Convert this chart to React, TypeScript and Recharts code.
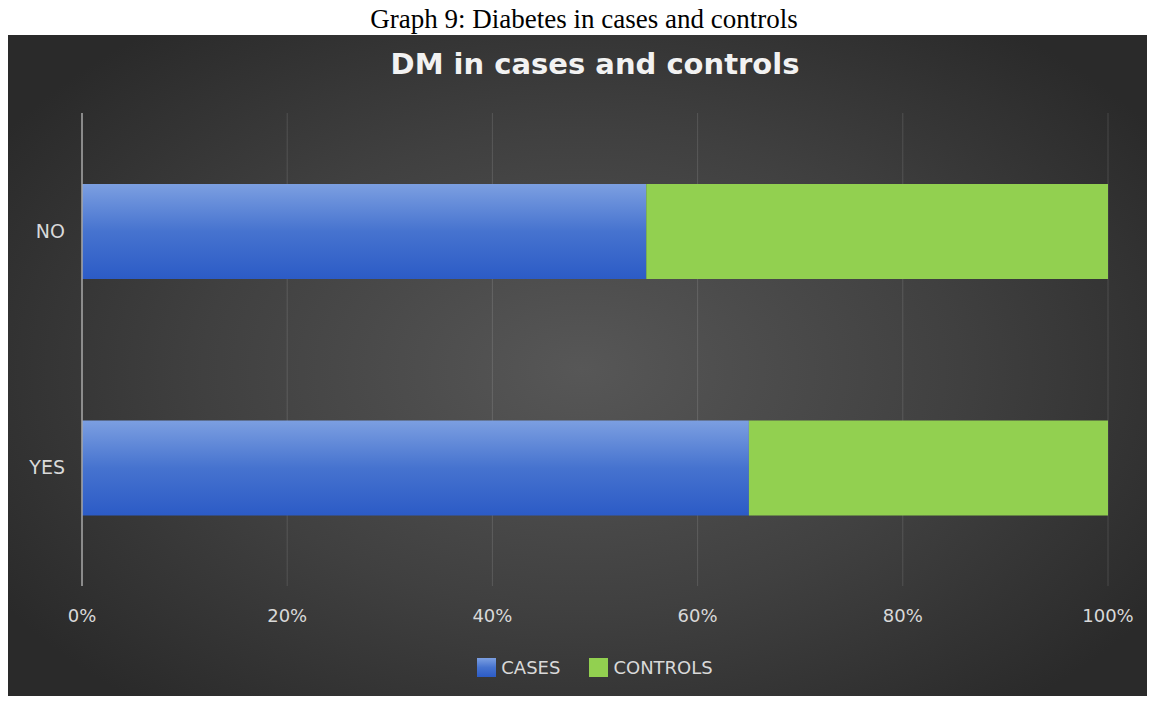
import React from 'react';
import { BarChart, Bar, XAxis, YAxis, CartesianGrid, Legend } from 'recharts';

// Diabetes status (categories) and the share of cases / controls in each, in %
const categories = ['NO', 'YES'];
const casesPct = [55, 65];
const controlsPct = [45, 35];
const xTicks = [0, 20, 40, 60, 80, 100];

const seriesNames = { cases: 'CASES', controls: 'CONTROLS' };

const data = categories.map((name, i) => ({
  name,
  cases: casesPct[i],
  controls: controlsPct[i],
}));

const FONT = '"DejaVu Sans", "Open Sans", sans-serif';
const LABEL = '#d9d9d9';

const renderLegend = (props: any) => {
  const { payload } = props;
  return (
    <div style={{ display: 'flex', justifyContent: 'center', alignItems: 'center' }}>
      {payload.map((entry: any, i: number) => (
        <div
          key={entry.value}
          style={{ display: 'flex', alignItems: 'center', marginLeft: i === 0 ? 0 : 29 }}
        >
          <svg width={19} height={19} style={{ marginRight: 5 }}>
            <rect width={19} height={19} fill={entry.color} />
          </svg>
          <span style={{ color: LABEL, fontFamily: FONT, fontSize: 18 }}>{entry.value}</span>
        </div>
      ))}
    </div>
  );
};

const App: React.FC = () => {
  return (
    <div style={{ position: 'relative', margin: -8, width: 1155, height: 704 }}>
      <div
        style={{
          position: 'absolute',
          top: 4,
          left: 0,
          width: 1155,
          paddingLeft: 13,
          boxSizing: 'border-box',
          textAlign: 'center',
          fontFamily: '"Liberation Serif", "Times New Roman", serif',
          fontSize: 27,
          color: '#000',
        }}
      >
        Graph 9: Diabetes in cases and controls
      </div>

      <div
        style={{
          position: 'absolute',
          left: 8,
          top: 35,
          width: 1147,
          height: 669,
          background:
            'radial-gradient(ellipse 60% 65% at 50% 50%, #575757 0%, #404040 55%, #2a2a2a 100%)',
        }}
      >
        <BarChart
          width={1147}
          height={669}
          data={data}
          layout="vertical"
          barCategoryGap="30%"
          margin={{ top: 78, right: 47, left: 0, bottom: 67 }}
        >
          <defs>
            <linearGradient id="casesFill" x1="0" y1="0" x2="0" y2="1">
              <stop offset="0%" stopColor="#7c9fe1" />
              <stop offset="50%" stopColor="#4673cf" />
              <stop offset="100%" stopColor="#2c5bc6" />
            </linearGradient>
          </defs>
          <CartesianGrid horizontal={false} stroke="rgba(255,255,255,0.13)" />
          <XAxis
            type="number"
            domain={[0, 100]}
            ticks={xTicks}
            tickFormatter={(v) => `${v}%`}
            axisLine={false}
            tickLine={false}
            tickMargin={17}
            height={30}
            tick={{ fill: LABEL, fontSize: 18, fontFamily: FONT }}
          />
          <YAxis
            type="category"
            dataKey="name"
            width={74}
            axisLine={{ stroke: '#a6a6a6', strokeWidth: 1.5 }}
            tickLine={false}
            tickMargin={11}
            tick={{ fill: LABEL, fontSize: 19, fontFamily: FONT }}
          />
          <Legend
            content={renderLegend}
            wrapperStyle={{ left: 74, width: 1026, top: 622 }}
          />
          <Bar
            dataKey="cases"
            name={seriesNames.cases}
            stackId="dm"
            fill="url(#casesFill)"
            legendType="square"
            isAnimationActive={false}
          />
          <Bar
            dataKey="controls"
            name={seriesNames.controls}
            stackId="dm"
            fill="#92d050"
            legendType="square"
            isAnimationActive={false}
          />
        </BarChart>

        <div
          style={{
            position: 'absolute',
            top: 12,
            left: 74,
            width: 1026,
            textAlign: 'center',
            fontFamily: FONT,
            fontWeight: 'bold',
            fontSize: 29,
            color: '#f2f2f2',
          }}
        >
          DM in cases and controls
        </div>
      </div>
    </div>
  );
};

export default App;
